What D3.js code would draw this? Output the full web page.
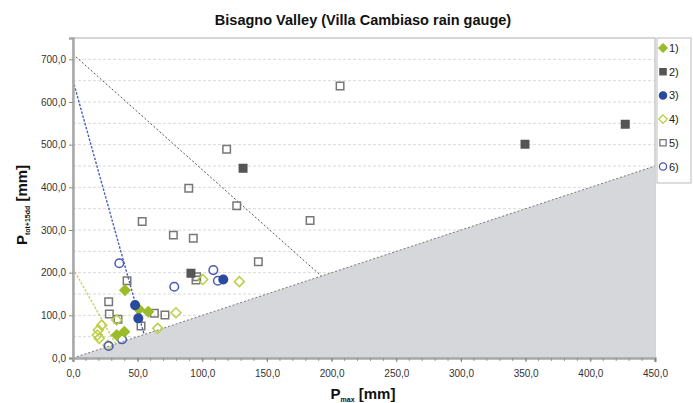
<!DOCTYPE html>
<html>
<head>
<meta charset="utf-8">
<script src="https://cdn.jsdelivr.net/npm/d3@7/dist/d3.min.js"></script>
<style>
  body { margin: 0; background: #fff; }
  svg { display: block; font-family: "Liberation Sans", Arial, sans-serif; }
</style>
</head>
<body>
<svg id="chart" width="693" height="403"></svg>
<script>
// Event points: [Pmax, Ptot+15dd] in mm
const series1 = [[40.2, 159], [51, 114], [58.2, 108.5], [33.8, 54], [39.7, 61.6]];
const series2 = [[91.2, 198.5], [131.5, 444.5], [349.5, 501], [427, 548]];
const series3 = [[48, 124], [50.5, 93], [116.2, 184]];
const series4 = [[22.2, 77], [19.6, 65.6], [18.8, 54], [20.3, 46], [27, 30], [33.8, 89],
                 [65.5, 69.5], [79.6, 106], [100.3, 184], [128.6, 179]];
const series5 = [[27.6, 132], [28.1, 103], [34.8, 90.7], [41.8, 181], [52.6, 75], [62.9, 104.7],
                 [71.1, 100.8], [53.5, 320], [77.6, 288], [93, 280.5], [95.6, 190.5], [95.1, 183],
                 [89.5, 398], [118.8, 489], [126.6, 357], [143.3, 225.7], [183.3, 322], [206.5, 637.5]];
const series6 = [[35.8, 222], [27.6, 28], [37.9, 43.8], [78.3, 167], [108.5, 206], [112, 181]];

// Threshold lines
const lineBlack = [[0, 712], [192, 192]];
const lineBlue = [[0, 650], [55, 55]];
const lineGreen = [[0, 210], [33, 33]];
const bisector = [[0, 0], [450, 450]];

const legendLabels = ["1)", "2)", "3)", "4)", "5)", "6)"];
const xTicks = [0, 50, 100, 150, 200, 250, 300, 350, 400, 450];
const yTicks = [0, 100, 200, 300, 400, 500, 600, 700];

const svg = d3.select("#chart");
const x = d3.scaleLinear().domain([0, 450]).range([73, 655]);
const y = d3.scaleLinear().domain([0, 750]).range([358, 38]);
const fmt = v => d3.format(".1f")(v).replace(".", ",");

// square rotated by 45 degrees (equal width and height)
const symbolRhombus = {
  draw(ctx, size) {
    const r = Math.sqrt(size / 2);
    ctx.moveTo(0, -r); ctx.lineTo(r, 0); ctx.lineTo(0, r); ctx.lineTo(-r, 0); ctx.closePath();
  }
};

// plot frame
svg.append("rect").attr("x", x(0)).attr("y", y(750)).attr("width", x(450) - x(0)).attr("height", y(0) - y(750))
  .attr("fill", "#fff").attr("stroke", "#c8c8c8").attr("stroke-width", 1.5);

// horizontal gridlines every 50
const grid = d3.range(50, 750, 50);
svg.append("g").selectAll("line").data(grid).join("line")
  .attr("x1", x(0)).attr("x2", x(450)).attr("y1", d => y(d)).attr("y2", d => y(d))
  .attr("stroke", "#cfcfcf").attr("stroke-width", 0.8).attr("stroke-dasharray", "3,2");

// shaded area under the 1:1 line
const line = d3.line().x(d => x(d[0])).y(d => y(d[1]));
svg.append("path")
  .attr("d", line([[0, 0], [450, 450], [450, 0]]) + "Z")
  .attr("fill", "#d6d7db");
svg.append("path").attr("d", line(bisector)).attr("fill", "none")
  .attr("stroke", "#777").attr("stroke-width", 1).attr("stroke-dasharray", "2,2");

svg.append("path").attr("d", line(lineBlack)).attr("fill", "none")
  .attr("stroke", "#555").attr("stroke-width", 1).attr("stroke-dasharray", "2,2");
svg.append("path").attr("d", line(lineBlue)).attr("fill", "none")
  .attr("stroke", "#4b5fbf").attr("stroke-width", 1.4).attr("stroke-dasharray", "2.5,1.5");
svg.append("path").attr("d", line(lineGreen)).attr("fill", "none")
  .attr("stroke", "#c4d45a").attr("stroke-width", 1.4).attr("stroke-dasharray", "2.5,1.5");

// axes
const xAxis = d3.axisBottom(x).tickValues(xTicks).tickFormat(fmt).tickSize(4).tickPadding(8);
const gx = svg.append("g").attr("transform", `translate(0,${y(0)})`).call(xAxis);
gx.select(".domain").attr("stroke", "#a8a8a8").attr("stroke-width", 2.5);
gx.selectAll(".tick line").attr("stroke", "#888");
gx.selectAll("text").attr("fill", "#333").attr("font-size", 10);
// minor ticks every 10
svg.append("g").selectAll("line").data(d3.range(0, 451, 10)).join("line")
  .attr("x1", d => x(d)).attr("x2", d => x(d)).attr("y1", y(0)).attr("y2", y(0) + 3)
  .attr("stroke", "#888").attr("stroke-width", 0.8);

const yAxis = d3.axisLeft(y).tickValues(yTicks).tickFormat(fmt).tickSize(4).tickPadding(3);
const gy = svg.append("g").attr("transform", `translate(${x(0)},0)`).call(yAxis);
gy.select(".domain").attr("stroke", "#a8a8a8").attr("stroke-width", 2.5);
gy.selectAll(".tick line").attr("stroke", "#888");
gy.selectAll("text").attr("fill", "#333").attr("font-size", 10);

// marker styles
const styles = [
  { data: series1, shape: symbolRhombus, size: 50, fill: "#9bbb2b", stroke: "#9bbb2b" },
  { data: series2, shape: d3.symbolSquare, size: 56, fill: "#555", stroke: "#555" },
  { data: series3, shape: d3.symbolCircle, size: 58, fill: "#2a4a9f", stroke: "#2a4a9f" },
  { data: series4, shape: symbolRhombus, size: 50, fill: "none", stroke: "#bccf45" },
  { data: series5, shape: d3.symbolSquare, size: 56, fill: "none", stroke: "#777" },
  { data: series6, shape: d3.symbolCircle, size: 58, fill: "none", stroke: "#4b58b5" }
];
const drawOrder = [4, 3, 5, 0, 1, 2];
drawOrder.forEach(i => {
  const s = styles[i];
  svg.append("g").selectAll("path").data(s.data).join("path")
    .attr("transform", d => `translate(${x(d[0])},${y(d[1])})`)
    .attr("d", d3.symbol(s.shape, s.size))
    .attr("fill", s.fill === "none" ? "none" : s.fill)
    .attr("stroke", s.stroke).attr("stroke-width", 1.5);
});

// title
svg.append("text").attr("x", 363).attr("y", 25).attr("text-anchor", "middle")
  .attr("font-size", 14.5).attr("font-weight", "bold").attr("fill", "#111")
  .text("Bisagno Valley (Villa Cambiaso rain gauge)");

// x axis title
const xt = svg.append("text").attr("x", 363).attr("y", 399).attr("text-anchor", "middle")
  .attr("font-size", 15).attr("font-weight", "bold").attr("fill", "#111");
xt.append("tspan").text("P");
xt.append("tspan").attr("font-size", 7).attr("dy", 3).text("max");
xt.append("tspan").attr("dy", -3).text(" [mm]");

// y axis title
const yt = svg.append("text").attr("transform", "translate(27,205) rotate(-90)").attr("text-anchor", "middle")
  .attr("font-size", 15).attr("font-weight", "bold").attr("fill", "#111");
yt.append("tspan").text("P");
yt.append("tspan").attr("font-size", 7).attr("dy", 3).text("tot+15dd");
yt.append("tspan").attr("dy", -3).text(" [mm]");

// legend
const lg = svg.append("g");
lg.append("rect").attr("x", 657).attr("y", 38).attr("width", 34).attr("height", 145)
  .attr("fill", "#fff").attr("stroke", "#bbb").attr("stroke-width", 1);
legendLabels.forEach((lab, i) => {
  const s = styles[i];
  const yy = 48 + i * 23.7;
  lg.append("path").attr("transform", `translate(663,${yy})`)
    .attr("d", d3.symbol(s.shape, s.size * 0.7))
    .attr("fill", s.fill === "none" ? "none" : s.fill).attr("stroke", s.stroke).attr("stroke-width", 1.3);
  lg.append("text").attr("x", 669).attr("y", yy + 4).attr("font-size", 11).attr("fill", "#222").text(lab);
});
</script>
</body>
</html>
